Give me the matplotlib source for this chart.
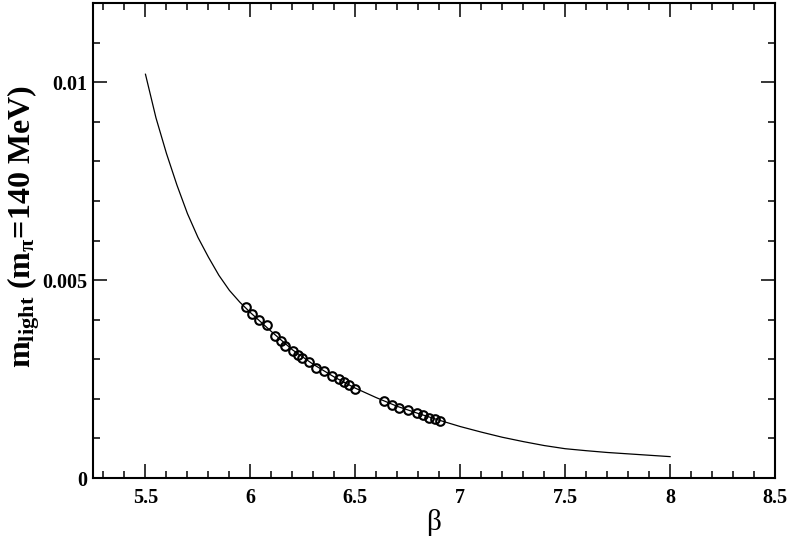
import numpy as np
import matplotlib
matplotlib.use('Agg')
from matplotlib import pyplot as plt
from matplotlib.ticker import MultipleLocator

plt.rcParams['font.family'] = ['Liberation Serif', 'DejaVu Serif']
plt.rcParams['mathtext.fontset'] = 'custom'
plt.rcParams['mathtext.rm'] = 'Liberation Serif'
plt.rcParams['mathtext.it'] = 'Liberation Serif:italic'
plt.rcParams['mathtext.bf'] = 'Liberation Serif:bold'

# curve (beta, m_light in units of 1e-3)
curve_beta = [5.5, 5.55, 5.6, 5.65, 5.7, 5.75, 5.8, 5.85, 5.9, 5.95, 6.0,
              6.1, 6.2, 6.3, 6.4, 6.5, 6.6, 6.7, 6.8, 6.9, 7.0,
              7.1, 7.2, 7.3, 7.4, 7.5, 7.6, 7.7, 7.8, 7.9, 8.0]
curve_m = [10.2, 9.1, 8.2, 7.4, 6.68, 6.08, 5.58, 5.12, 4.74, 4.44, 4.18,
           3.70, 3.24, 2.87, 2.55, 2.27, 2.03, 1.81, 1.63, 1.46, 1.30,
           1.16, 1.03, 0.92, 0.82, 0.74, 0.69, 0.645, 0.61, 0.575, 0.54]

# simulated points
pt_beta = [5.979, 6.008, 6.043, 6.079, 6.119, 6.148, 6.167, 6.202, 6.227,
           6.244, 6.281, 6.313, 6.352, 6.389, 6.424, 6.448, 6.471, 6.497,
           6.638, 6.675, 6.71, 6.752, 6.794, 6.824, 6.849, 6.878, 6.905]
pt_m = [4.33, 4.15, 3.98, 3.87, 3.58, 3.45, 3.34, 3.22, 3.12,
        3.04, 2.93, 2.79, 2.70, 2.57, 2.49, 2.42, 2.34, 2.26,
        1.94, 1.84, 1.78, 1.71, 1.65, 1.59, 1.52, 1.48, 1.44]

xticks = [5.5, 6, 6.5, 7, 7.5, 8, 8.5]
xtick_labels = ['5.5', '6', '6.5', '7', '7.5', '8', '8.5']
yticks = [0, 0.005, 0.01]
ytick_labels = ['0', '0.005', '0.01']

fig = plt.figure(figsize=(7.89, 5.36), dpi=100)
ax = fig.add_axes([93 / 789, 1 - 478 / 536, 682 / 789, 475 / 536])

ax.plot(curve_beta, np.array(curve_m) * 1e-3, color='black', lw=0.9)
ax.plot(pt_beta, np.array(pt_m) * 1e-3, 'o', mfc='none', mec='black',
        ms=6.2, mew=1.5)

ax.set_xlim(5.25, 8.5)
ax.set_ylim(0, 0.012)
ax.set_xticks(xticks)
ax.set_xticklabels(xtick_labels)
ax.set_yticks(yticks)
ax.set_yticklabels(ytick_labels)
ax.xaxis.set_minor_locator(MultipleLocator(0.1))
ax.yaxis.set_minor_locator(MultipleLocator(0.001))

ax.tick_params(which='both', direction='in', top=True, right=True, width=1.1)
ax.tick_params(which='major', length=10)
ax.tick_params(which='minor', length=5)
ax.tick_params(axis='x', pad=7)
ax.tick_params(axis='y', pad=4)
for lab in ax.get_xticklabels() + ax.get_yticklabels():
    lab.set_fontweight('bold')
    lab.set_fontsize(14.5)
for sp in ax.spines.values():
    sp.set_linewidth(1.5)

ax.set_xlabel('β', fontsize=21)
ax.xaxis.set_label_coords(0.5, -0.065)
ax.set_ylabel(r'm$_{\mathbf{light}}$ (m$_{\mathbf{\pi}}$=140 MeV)',
              fontsize=23, fontweight='bold')
ax.yaxis.set_label_coords(-0.075, 0.53)

plt.savefig('out.png', dpi=100)
